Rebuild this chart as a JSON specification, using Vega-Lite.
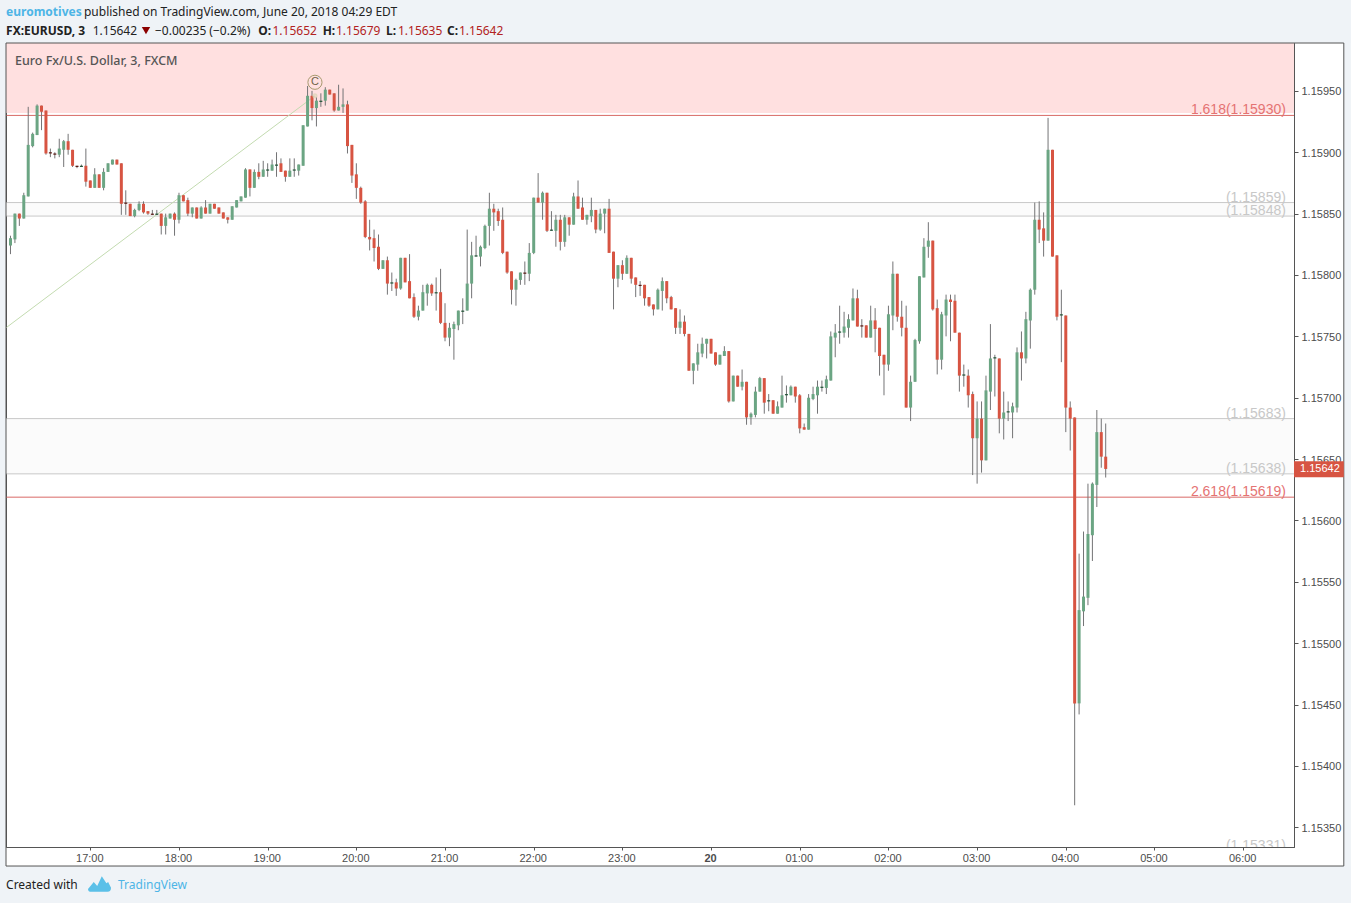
{"$schema":"https://vega.github.io/schema/vega-lite/v6.json","width":1288,"height":804,"autosize":{"type":"none"},"padding":{"left":6,"top":43,"right":57,"bottom":56},"background":"#ffffff","view":{"stroke":"#555555","strokeWidth":1},"config":{"scale":{"continuousPadding":0},"axis":{"labelFont":"Liberation Sans","labelFontSize":11,"labelColor":"#4c4c4c","tickColor":"#555555","domainColor":"#555555","grid":false}},
"datasets":{"candles":[
{"t":"2018-06-19T16:06Z","o":1.15824,"h":1.15832,"l":1.15817,"c":1.1583},
{"t":"2018-06-19T16:09Z","o":1.15829,"h":1.1585,"l":1.15826,"c":1.1585},
{"t":"2018-06-19T16:12Z","o":1.1585,"h":1.1585,"l":1.1584,"c":1.15846},
{"t":"2018-06-19T16:15Z","o":1.15846,"h":1.15867,"l":1.15846,"c":1.15865},
{"t":"2018-06-19T16:18Z","o":1.15864,"h":1.15937,"l":1.15864,"c":1.15906},
{"t":"2018-06-19T16:21Z","o":1.15905,"h":1.15916,"l":1.15904,"c":1.15915},
{"t":"2018-06-19T16:24Z","o":1.15914,"h":1.15939,"l":1.15914,"c":1.15938},
{"t":"2018-06-19T16:27Z","o":1.15938,"h":1.15938,"l":1.15918,"c":1.15933},
{"t":"2018-06-19T16:30Z","o":1.15934,"h":1.15934,"l":1.15898,"c":1.15899},
{"t":"2018-06-19T16:33Z","o":1.159,"h":1.15903,"l":1.15896,"c":1.15899},
{"t":"2018-06-19T16:36Z","o":1.15899,"h":1.159,"l":1.15895,"c":1.15898},
{"t":"2018-06-19T16:39Z","o":1.15898,"h":1.15911,"l":1.15896,"c":1.15903},
{"t":"2018-06-19T16:42Z","o":1.15902,"h":1.1591,"l":1.15888,"c":1.15909},
{"t":"2018-06-19T16:45Z","o":1.15909,"h":1.15915,"l":1.15898,"c":1.15902},
{"t":"2018-06-19T16:48Z","o":1.15902,"h":1.15902,"l":1.15888,"c":1.15889},
{"t":"2018-06-19T16:51Z","o":1.15889,"h":1.15889,"l":1.15887,"c":1.15888},
{"t":"2018-06-19T16:54Z","o":1.15888,"h":1.1589,"l":1.15888,"c":1.15889},
{"t":"2018-06-19T16:57Z","o":1.15889,"h":1.15903,"l":1.15872,"c":1.15876},
{"t":"2018-06-19T17:00Z","o":1.15877,"h":1.15877,"l":1.15871,"c":1.15871},
{"t":"2018-06-19T17:03Z","o":1.15871,"h":1.15887,"l":1.15871,"c":1.15882},
{"t":"2018-06-19T17:06Z","o":1.15882,"h":1.15882,"l":1.15871,"c":1.15871},
{"t":"2018-06-19T17:09Z","o":1.15871,"h":1.15887,"l":1.15869,"c":1.15884},
{"t":"2018-06-19T17:12Z","o":1.15884,"h":1.15891,"l":1.15884,"c":1.15891},
{"t":"2018-06-19T17:15Z","o":1.1589,"h":1.15894,"l":1.1589,"c":1.15894},
{"t":"2018-06-19T17:18Z","o":1.15894,"h":1.15894,"l":1.1589,"c":1.1589},
{"t":"2018-06-19T17:21Z","o":1.15891,"h":1.15891,"l":1.15849,"c":1.15858},
{"t":"2018-06-19T17:24Z","o":1.15859,"h":1.15869,"l":1.15849,"c":1.15858},
{"t":"2018-06-19T17:27Z","o":1.15858,"h":1.15858,"l":1.15848,"c":1.15848},
{"t":"2018-06-19T17:30Z","o":1.15848,"h":1.15854,"l":1.15847,"c":1.15853},
{"t":"2018-06-19T17:33Z","o":1.15853,"h":1.1586,"l":1.15852,"c":1.15858},
{"t":"2018-06-19T17:36Z","o":1.15858,"h":1.1586,"l":1.1585,"c":1.15851},
{"t":"2018-06-19T17:39Z","o":1.15852,"h":1.15852,"l":1.15849,"c":1.1585},
{"t":"2018-06-19T17:42Z","o":1.1585,"h":1.15853,"l":1.15849,"c":1.15849},
{"t":"2018-06-19T17:45Z","o":1.15849,"h":1.15853,"l":1.15849,"c":1.1585},
{"t":"2018-06-19T17:48Z","o":1.1585,"h":1.1585,"l":1.15833,"c":1.1584},
{"t":"2018-06-19T17:51Z","o":1.1584,"h":1.1585,"l":1.15833,"c":1.15847},
{"t":"2018-06-19T17:54Z","o":1.15846,"h":1.1585,"l":1.15846,"c":1.1585},
{"t":"2018-06-19T17:57Z","o":1.1585,"h":1.15851,"l":1.15832,"c":1.15845},
{"t":"2018-06-19T18:00Z","o":1.15845,"h":1.15867,"l":1.15842,"c":1.15865},
{"t":"2018-06-19T18:03Z","o":1.15865,"h":1.15865,"l":1.1586,"c":1.1586},
{"t":"2018-06-19T18:06Z","o":1.15861,"h":1.15863,"l":1.15848,"c":1.1585},
{"t":"2018-06-19T18:09Z","o":1.1585,"h":1.15855,"l":1.15847,"c":1.15855},
{"t":"2018-06-19T18:12Z","o":1.15855,"h":1.15855,"l":1.15846,"c":1.15846},
{"t":"2018-06-19T18:15Z","o":1.15846,"h":1.15856,"l":1.15846,"c":1.15855},
{"t":"2018-06-19T18:18Z","o":1.15855,"h":1.15861,"l":1.1585,"c":1.1585},
{"t":"2018-06-19T18:21Z","o":1.1585,"h":1.15858,"l":1.1585,"c":1.15858},
{"t":"2018-06-19T18:24Z","o":1.15858,"h":1.15858,"l":1.15854,"c":1.15854},
{"t":"2018-06-19T18:27Z","o":1.15855,"h":1.15855,"l":1.1585,"c":1.1585},
{"t":"2018-06-19T18:30Z","o":1.15851,"h":1.15851,"l":1.15846,"c":1.15846},
{"t":"2018-06-19T18:33Z","o":1.15847,"h":1.15847,"l":1.15842,"c":1.15845},
{"t":"2018-06-19T18:36Z","o":1.15845,"h":1.15856,"l":1.15845,"c":1.15856},
{"t":"2018-06-19T18:39Z","o":1.15855,"h":1.15861,"l":1.15855,"c":1.15861},
{"t":"2018-06-19T18:42Z","o":1.1586,"h":1.15864,"l":1.1586,"c":1.15864},
{"t":"2018-06-19T18:45Z","o":1.15863,"h":1.15887,"l":1.15863,"c":1.15886},
{"t":"2018-06-19T18:48Z","o":1.15886,"h":1.15886,"l":1.15864,"c":1.15871},
{"t":"2018-06-19T18:51Z","o":1.15871,"h":1.15886,"l":1.15871,"c":1.15884},
{"t":"2018-06-19T18:54Z","o":1.15884,"h":1.15891,"l":1.15878,"c":1.1588},
{"t":"2018-06-19T18:57Z","o":1.1588,"h":1.15893,"l":1.1588,"c":1.15886},
{"t":"2018-06-19T19:00Z","o":1.15885,"h":1.15891,"l":1.1588,"c":1.15886},
{"t":"2018-06-19T19:03Z","o":1.15885,"h":1.15894,"l":1.15885,"c":1.1589},
{"t":"2018-06-19T19:06Z","o":1.15889,"h":1.159,"l":1.1588,"c":1.1589},
{"t":"2018-06-19T19:09Z","o":1.15891,"h":1.15895,"l":1.15884,"c":1.15884},
{"t":"2018-06-19T19:12Z","o":1.15885,"h":1.15885,"l":1.15876,"c":1.1588},
{"t":"2018-06-19T19:15Z","o":1.1588,"h":1.15895,"l":1.1588,"c":1.15885},
{"t":"2018-06-19T19:18Z","o":1.15885,"h":1.15895,"l":1.1588,"c":1.15886},
{"t":"2018-06-19T19:21Z","o":1.15885,"h":1.1589,"l":1.15881,"c":1.1589},
{"t":"2018-06-19T19:24Z","o":1.15889,"h":1.15922,"l":1.15889,"c":1.15922},
{"t":"2018-06-19T19:27Z","o":1.15921,"h":1.15954,"l":1.15921,"c":1.15946},
{"t":"2018-06-19T19:30Z","o":1.15946,"h":1.1595,"l":1.15926,"c":1.15936},
{"t":"2018-06-19T19:33Z","o":1.15936,"h":1.15945,"l":1.15921,"c":1.15942},
{"t":"2018-06-19T19:36Z","o":1.15941,"h":1.15948,"l":1.15937,"c":1.15942},
{"t":"2018-06-19T19:39Z","o":1.15942,"h":1.15953,"l":1.15938,"c":1.15951},
{"t":"2018-06-19T19:42Z","o":1.15951,"h":1.15951,"l":1.15947,"c":1.15947},
{"t":"2018-06-19T19:45Z","o":1.15948,"h":1.15948,"l":1.15933,"c":1.15934},
{"t":"2018-06-19T19:48Z","o":1.15934,"h":1.15955,"l":1.15934,"c":1.15937},
{"t":"2018-06-19T19:51Z","o":1.15937,"h":1.15952,"l":1.15932,"c":1.15939},
{"t":"2018-06-19T19:54Z","o":1.15939,"h":1.15942,"l":1.15899,"c":1.15905},
{"t":"2018-06-19T19:57Z","o":1.15906,"h":1.15906,"l":1.15875,"c":1.15881},
{"t":"2018-06-19T20:00Z","o":1.15882,"h":1.15891,"l":1.15862,"c":1.15871},
{"t":"2018-06-19T20:03Z","o":1.15871,"h":1.15872,"l":1.15858,"c":1.15859},
{"t":"2018-06-19T20:06Z","o":1.1586,"h":1.15861,"l":1.1583,"c":1.15831},
{"t":"2018-06-19T20:09Z","o":1.15831,"h":1.15845,"l":1.1582,"c":1.15829},
{"t":"2018-06-19T20:12Z","o":1.1583,"h":1.15837,"l":1.15811,"c":1.15822},
{"t":"2018-06-19T20:15Z","o":1.15823,"h":1.15833,"l":1.15804,"c":1.15805},
{"t":"2018-06-19T20:18Z","o":1.15805,"h":1.15812,"l":1.15805,"c":1.15812},
{"t":"2018-06-19T20:21Z","o":1.15812,"h":1.15815,"l":1.15784,"c":1.15793},
{"t":"2018-06-19T20:24Z","o":1.15793,"h":1.15802,"l":1.15787,"c":1.15794},
{"t":"2018-06-19T20:27Z","o":1.15794,"h":1.15797,"l":1.15783,"c":1.15789},
{"t":"2018-06-19T20:30Z","o":1.15789,"h":1.15814,"l":1.15788,"c":1.15814},
{"t":"2018-06-19T20:33Z","o":1.15814,"h":1.15814,"l":1.15794,"c":1.15794},
{"t":"2018-06-19T20:36Z","o":1.15795,"h":1.15817,"l":1.15781,"c":1.15781},
{"t":"2018-06-19T20:39Z","o":1.15782,"h":1.15785,"l":1.15765,"c":1.15766},
{"t":"2018-06-19T20:42Z","o":1.15766,"h":1.15775,"l":1.15763,"c":1.15771},
{"t":"2018-06-19T20:45Z","o":1.15771,"h":1.15792,"l":1.15771,"c":1.15786},
{"t":"2018-06-19T20:48Z","o":1.15785,"h":1.15793,"l":1.15775,"c":1.15792},
{"t":"2018-06-19T20:51Z","o":1.15792,"h":1.15793,"l":1.15783,"c":1.15785},
{"t":"2018-06-19T20:54Z","o":1.15785,"h":1.15798,"l":1.15771,"c":1.15786},
{"t":"2018-06-19T20:57Z","o":1.15786,"h":1.15805,"l":1.1576,"c":1.15761},
{"t":"2018-06-19T21:00Z","o":1.15761,"h":1.15777,"l":1.15746,"c":1.15749},
{"t":"2018-06-19T21:03Z","o":1.15749,"h":1.15761,"l":1.15742,"c":1.15757},
{"t":"2018-06-19T21:06Z","o":1.15756,"h":1.15762,"l":1.15731,"c":1.1576},
{"t":"2018-06-19T21:09Z","o":1.15759,"h":1.15771,"l":1.15755,"c":1.15771},
{"t":"2018-06-19T21:12Z","o":1.1577,"h":1.15781,"l":1.1576,"c":1.15771},
{"t":"2018-06-19T21:15Z","o":1.15771,"h":1.15837,"l":1.15771,"c":1.15793},
{"t":"2018-06-19T21:18Z","o":1.15793,"h":1.15827,"l":1.15781,"c":1.15816},
{"t":"2018-06-19T21:21Z","o":1.15815,"h":1.15832,"l":1.15815,"c":1.15816},
{"t":"2018-06-19T21:24Z","o":1.15815,"h":1.15824,"l":1.15807,"c":1.15823},
{"t":"2018-06-19T21:27Z","o":1.15822,"h":1.15841,"l":1.15821,"c":1.1584},
{"t":"2018-06-19T21:30Z","o":1.1584,"h":1.15867,"l":1.15824,"c":1.15854},
{"t":"2018-06-19T21:33Z","o":1.15854,"h":1.15858,"l":1.15836,"c":1.15851},
{"t":"2018-06-19T21:36Z","o":1.15852,"h":1.15854,"l":1.1584,"c":1.15844},
{"t":"2018-06-19T21:39Z","o":1.15845,"h":1.15855,"l":1.15817,"c":1.15818},
{"t":"2018-06-19T21:42Z","o":1.15819,"h":1.15819,"l":1.15801,"c":1.15802},
{"t":"2018-06-19T21:45Z","o":1.15803,"h":1.15803,"l":1.15776,"c":1.15788},
{"t":"2018-06-19T21:48Z","o":1.15788,"h":1.15797,"l":1.15775,"c":1.15796},
{"t":"2018-06-19T21:51Z","o":1.15796,"h":1.15802,"l":1.15792,"c":1.15802},
{"t":"2018-06-19T21:54Z","o":1.15802,"h":1.15811,"l":1.15792,"c":1.15801},
{"t":"2018-06-19T21:57Z","o":1.15801,"h":1.15826,"l":1.15795,"c":1.15818},
{"t":"2018-06-19T22:00Z","o":1.15818,"h":1.15863,"l":1.15817,"c":1.15863},
{"t":"2018-06-19T22:03Z","o":1.15863,"h":1.15883,"l":1.15859,"c":1.15859},
{"t":"2018-06-19T22:06Z","o":1.15859,"h":1.15868,"l":1.15845,"c":1.15867},
{"t":"2018-06-19T22:09Z","o":1.15867,"h":1.15867,"l":1.15835,"c":1.15836},
{"t":"2018-06-19T22:12Z","o":1.15836,"h":1.15852,"l":1.15836,"c":1.15837},
{"t":"2018-06-19T22:15Z","o":1.15836,"h":1.15849,"l":1.15823,"c":1.15845},
{"t":"2018-06-19T22:18Z","o":1.15845,"h":1.15849,"l":1.1582,"c":1.15827},
{"t":"2018-06-19T22:21Z","o":1.15827,"h":1.15849,"l":1.15823,"c":1.15847},
{"t":"2018-06-19T22:24Z","o":1.15847,"h":1.15847,"l":1.15832,"c":1.15841},
{"t":"2018-06-19T22:27Z","o":1.15841,"h":1.15867,"l":1.15841,"c":1.15864},
{"t":"2018-06-19T22:30Z","o":1.15864,"h":1.15877,"l":1.15854,"c":1.15854},
{"t":"2018-06-19T22:33Z","o":1.15855,"h":1.15863,"l":1.15845,"c":1.15845},
{"t":"2018-06-19T22:36Z","o":1.15845,"h":1.15849,"l":1.15841,"c":1.15849},
{"t":"2018-06-19T22:39Z","o":1.15848,"h":1.15863,"l":1.15843,"c":1.15853},
{"t":"2018-06-19T22:42Z","o":1.15853,"h":1.15853,"l":1.15834,"c":1.15837},
{"t":"2018-06-19T22:45Z","o":1.15837,"h":1.15854,"l":1.15836,"c":1.1585},
{"t":"2018-06-19T22:48Z","o":1.1585,"h":1.15854,"l":1.15834,"c":1.15854},
{"t":"2018-06-19T22:51Z","o":1.15854,"h":1.15862,"l":1.15818,"c":1.15818},
{"t":"2018-06-19T22:54Z","o":1.15819,"h":1.15819,"l":1.15772,"c":1.15797},
{"t":"2018-06-19T22:57Z","o":1.15797,"h":1.15808,"l":1.1579,"c":1.15808},
{"t":"2018-06-19T23:00Z","o":1.15808,"h":1.15812,"l":1.15796,"c":1.15801},
{"t":"2018-06-19T23:03Z","o":1.15801,"h":1.15816,"l":1.15801,"c":1.15814},
{"t":"2018-06-19T23:06Z","o":1.15814,"h":1.15814,"l":1.15793,"c":1.15797},
{"t":"2018-06-19T23:09Z","o":1.15798,"h":1.15798,"l":1.15782,"c":1.15792},
{"t":"2018-06-19T23:12Z","o":1.15792,"h":1.15795,"l":1.15783,"c":1.15791},
{"t":"2018-06-19T23:15Z","o":1.15792,"h":1.15792,"l":1.15775,"c":1.15781},
{"t":"2018-06-19T23:18Z","o":1.15782,"h":1.15782,"l":1.15774,"c":1.15775},
{"t":"2018-06-19T23:21Z","o":1.15776,"h":1.15776,"l":1.15767,"c":1.15772},
{"t":"2018-06-19T23:24Z","o":1.15772,"h":1.15789,"l":1.15772,"c":1.15788},
{"t":"2018-06-19T23:27Z","o":1.15787,"h":1.15798,"l":1.15771,"c":1.15795},
{"t":"2018-06-19T23:30Z","o":1.15795,"h":1.15795,"l":1.15777,"c":1.15781},
{"t":"2018-06-19T23:33Z","o":1.15782,"h":1.15783,"l":1.15772,"c":1.15772},
{"t":"2018-06-19T23:36Z","o":1.15773,"h":1.15773,"l":1.15752,"c":1.15757},
{"t":"2018-06-19T23:39Z","o":1.15757,"h":1.15772,"l":1.15752,"c":1.15762},
{"t":"2018-06-19T23:42Z","o":1.15762,"h":1.15767,"l":1.1575,"c":1.15752},
{"t":"2018-06-19T23:45Z","o":1.15752,"h":1.15752,"l":1.15722,"c":1.15722},
{"t":"2018-06-19T23:48Z","o":1.15722,"h":1.15728,"l":1.15711,"c":1.15728},
{"t":"2018-06-19T23:51Z","o":1.15727,"h":1.15744,"l":1.15722,"c":1.15737},
{"t":"2018-06-19T23:54Z","o":1.15736,"h":1.15749,"l":1.15733,"c":1.15744},
{"t":"2018-06-19T23:57Z","o":1.15744,"h":1.15748,"l":1.15732,"c":1.15748},
{"t":"2018-06-20T00:00Z","o":1.15748,"h":1.15748,"l":1.15736,"c":1.15736},
{"t":"2018-06-20T00:03Z","o":1.15737,"h":1.15737,"l":1.15726,"c":1.15727},
{"t":"2018-06-20T00:06Z","o":1.15727,"h":1.15735,"l":1.15727,"c":1.15735},
{"t":"2018-06-20T00:09Z","o":1.15734,"h":1.15742,"l":1.15734,"c":1.15738},
{"t":"2018-06-20T00:12Z","o":1.15738,"h":1.15738,"l":1.15696,"c":1.15697},
{"t":"2018-06-20T00:15Z","o":1.15697,"h":1.15718,"l":1.15697,"c":1.15718},
{"t":"2018-06-20T00:18Z","o":1.15718,"h":1.15718,"l":1.15709,"c":1.15709},
{"t":"2018-06-20T00:21Z","o":1.15709,"h":1.15723,"l":1.15706,"c":1.15713},
{"t":"2018-06-20T00:24Z","o":1.15713,"h":1.15713,"l":1.15678,"c":1.15684},
{"t":"2018-06-20T00:27Z","o":1.15684,"h":1.15688,"l":1.15678,"c":1.15687},
{"t":"2018-06-20T00:30Z","o":1.15686,"h":1.15709,"l":1.15684,"c":1.15705},
{"t":"2018-06-20T00:33Z","o":1.15705,"h":1.15717,"l":1.15705,"c":1.15716},
{"t":"2018-06-20T00:36Z","o":1.15716,"h":1.15716,"l":1.15687,"c":1.15696},
{"t":"2018-06-20T00:39Z","o":1.15697,"h":1.15703,"l":1.15689,"c":1.15698},
{"t":"2018-06-20T00:42Z","o":1.15698,"h":1.15698,"l":1.15687,"c":1.15687},
{"t":"2018-06-20T00:45Z","o":1.15687,"h":1.15697,"l":1.15687,"c":1.15693},
{"t":"2018-06-20T00:48Z","o":1.15692,"h":1.15718,"l":1.15692,"c":1.15702},
{"t":"2018-06-20T00:51Z","o":1.15702,"h":1.1571,"l":1.15696,"c":1.15703},
{"t":"2018-06-20T00:54Z","o":1.15702,"h":1.1571,"l":1.15702,"c":1.15709},
{"t":"2018-06-20T00:57Z","o":1.15709,"h":1.15709,"l":1.15696,"c":1.15701},
{"t":"2018-06-20T01:00Z","o":1.15702,"h":1.15703,"l":1.15671,"c":1.15675},
{"t":"2018-06-20T01:03Z","o":1.15676,"h":1.15679,"l":1.15674,"c":1.15674},
{"t":"2018-06-20T01:06Z","o":1.15674,"h":1.15703,"l":1.15674,"c":1.157},
{"t":"2018-06-20T01:09Z","o":1.15699,"h":1.15709,"l":1.15698,"c":1.15703},
{"t":"2018-06-20T01:12Z","o":1.15702,"h":1.15714,"l":1.15687,"c":1.15709},
{"t":"2018-06-20T01:15Z","o":1.15708,"h":1.15714,"l":1.15705,"c":1.15709},
{"t":"2018-06-20T01:18Z","o":1.15708,"h":1.15718,"l":1.15703,"c":1.15715},
{"t":"2018-06-20T01:21Z","o":1.15714,"h":1.15754,"l":1.15714,"c":1.1575},
{"t":"2018-06-20T01:24Z","o":1.15749,"h":1.1576,"l":1.15733,"c":1.15753},
{"t":"2018-06-20T01:27Z","o":1.15753,"h":1.15775,"l":1.15744,"c":1.15754},
{"t":"2018-06-20T01:30Z","o":1.15753,"h":1.1577,"l":1.15749,"c":1.15758},
{"t":"2018-06-20T01:33Z","o":1.15757,"h":1.15768,"l":1.15749,"c":1.15764},
{"t":"2018-06-20T01:36Z","o":1.15763,"h":1.15789,"l":1.15763,"c":1.15781},
{"t":"2018-06-20T01:39Z","o":1.15781,"h":1.15788,"l":1.15758,"c":1.15758},
{"t":"2018-06-20T01:42Z","o":1.15759,"h":1.15764,"l":1.15749,"c":1.15758},
{"t":"2018-06-20T01:45Z","o":1.15759,"h":1.15759,"l":1.15749,"c":1.15749},
{"t":"2018-06-20T01:48Z","o":1.15749,"h":1.15775,"l":1.15749,"c":1.15763},
{"t":"2018-06-20T01:51Z","o":1.15763,"h":1.15773,"l":1.15737,"c":1.15756},
{"t":"2018-06-20T01:54Z","o":1.15757,"h":1.15757,"l":1.15718,"c":1.15734},
{"t":"2018-06-20T01:57Z","o":1.15735,"h":1.15735,"l":1.15702,"c":1.15727},
{"t":"2018-06-20T02:00Z","o":1.15727,"h":1.15775,"l":1.15722,"c":1.15768},
{"t":"2018-06-20T02:03Z","o":1.15767,"h":1.15811,"l":1.15755,"c":1.15801},
{"t":"2018-06-20T02:06Z","o":1.15801,"h":1.15801,"l":1.15762,"c":1.15766},
{"t":"2018-06-20T02:09Z","o":1.15766,"h":1.15779,"l":1.1575,"c":1.15757},
{"t":"2018-06-20T02:12Z","o":1.15757,"h":1.15775,"l":1.15692,"c":1.15692},
{"t":"2018-06-20T02:15Z","o":1.15692,"h":1.15718,"l":1.15681,"c":1.15713},
{"t":"2018-06-20T02:18Z","o":1.15713,"h":1.15748,"l":1.15713,"c":1.15747},
{"t":"2018-06-20T02:21Z","o":1.15746,"h":1.15799,"l":1.15744,"c":1.15799},
{"t":"2018-06-20T02:24Z","o":1.15798,"h":1.1583,"l":1.15798,"c":1.15823},
{"t":"2018-06-20T02:27Z","o":1.15823,"h":1.15843,"l":1.15814,"c":1.15828},
{"t":"2018-06-20T02:30Z","o":1.15828,"h":1.15828,"l":1.15771,"c":1.15772},
{"t":"2018-06-20T02:33Z","o":1.15773,"h":1.1578,"l":1.15719,"c":1.15731},
{"t":"2018-06-20T02:36Z","o":1.15731,"h":1.1577,"l":1.15723,"c":1.15768},
{"t":"2018-06-20T02:39Z","o":1.15767,"h":1.15784,"l":1.1575,"c":1.1578},
{"t":"2018-06-20T02:42Z","o":1.1578,"h":1.15784,"l":1.15746,"c":1.15778},
{"t":"2018-06-20T02:45Z","o":1.15779,"h":1.15784,"l":1.15753,"c":1.15753},
{"t":"2018-06-20T02:48Z","o":1.15753,"h":1.15753,"l":1.15705,"c":1.15718},
{"t":"2018-06-20T02:51Z","o":1.15718,"h":1.15727,"l":1.15709,"c":1.15719},
{"t":"2018-06-20T02:54Z","o":1.15718,"h":1.15723,"l":1.15692,"c":1.15702},
{"t":"2018-06-20T02:57Z","o":1.15703,"h":1.15705,"l":1.15637,"c":1.15667},
{"t":"2018-06-20T03:00Z","o":1.15667,"h":1.15697,"l":1.1563,"c":1.15683},
{"t":"2018-06-20T03:03Z","o":1.15683,"h":1.15697,"l":1.15639,"c":1.15649},
{"t":"2018-06-20T03:06Z","o":1.15649,"h":1.15718,"l":1.15649,"c":1.15706},
{"t":"2018-06-20T03:09Z","o":1.15705,"h":1.1576,"l":1.1569,"c":1.15732},
{"t":"2018-06-20T03:12Z","o":1.15732,"h":1.15735,"l":1.15701,"c":1.15733},
{"t":"2018-06-20T03:15Z","o":1.15732,"h":1.15732,"l":1.15671,"c":1.15683},
{"t":"2018-06-20T03:18Z","o":1.15683,"h":1.15705,"l":1.15666,"c":1.15688},
{"t":"2018-06-20T03:21Z","o":1.15688,"h":1.15697,"l":1.15681,"c":1.15689},
{"t":"2018-06-20T03:24Z","o":1.15688,"h":1.15696,"l":1.15667,"c":1.15693},
{"t":"2018-06-20T03:27Z","o":1.15692,"h":1.15741,"l":1.15688,"c":1.15737},
{"t":"2018-06-20T03:30Z","o":1.15737,"h":1.15754,"l":1.15714,"c":1.15732},
{"t":"2018-06-20T03:33Z","o":1.15732,"h":1.1577,"l":1.15728,"c":1.15764},
{"t":"2018-06-20T03:36Z","o":1.15763,"h":1.15789,"l":1.1574,"c":1.15788},
{"t":"2018-06-20T03:39Z","o":1.15788,"h":1.15859,"l":1.15784,"c":1.15845},
{"t":"2018-06-20T03:42Z","o":1.15845,"h":1.1586,"l":1.15826,"c":1.15837},
{"t":"2018-06-20T03:45Z","o":1.15838,"h":1.15851,"l":1.15815,"c":1.15828},
{"t":"2018-06-20T03:48Z","o":1.15828,"h":1.15928,"l":1.15828,"c":1.15902},
{"t":"2018-06-20T03:51Z","o":1.15902,"h":1.15902,"l":1.15815,"c":1.15815},
{"t":"2018-06-20T03:54Z","o":1.15816,"h":1.15816,"l":1.15763,"c":1.15766},
{"t":"2018-06-20T03:57Z","o":1.15767,"h":1.15788,"l":1.15729,"c":1.15768},
{"t":"2018-06-20T04:00Z","o":1.15767,"h":1.15767,"l":1.15672,"c":1.15692},
{"t":"2018-06-20T04:03Z","o":1.15692,"h":1.15697,"l":1.15657,"c":1.15683},
{"t":"2018-06-20T04:06Z","o":1.15684,"h":1.15684,"l":1.15368,"c":1.15451},
{"t":"2018-06-20T04:09Z","o":1.15451,"h":1.15573,"l":1.15442,"c":1.15527},
{"t":"2018-06-20T04:12Z","o":1.15526,"h":1.15591,"l":1.15514,"c":1.15538},
{"t":"2018-06-20T04:15Z","o":1.15537,"h":1.1563,"l":1.15531,"c":1.15589},
{"t":"2018-06-20T04:18Z","o":1.15588,"h":1.15631,"l":1.15567,"c":1.1563},
{"t":"2018-06-20T04:21Z","o":1.15629,"h":1.1569,"l":1.15611,"c":1.15672},
{"t":"2018-06-20T04:24Z","o":1.15672,"h":1.15683,"l":1.15643,"c":1.15652},
{"t":"2018-06-20T04:27Z","o":1.15652,"h":1.15679,"l":1.15635,"c":1.15642}
]},
"layer":[
{"data":{"values":[{"a":1.15989,"b":1.15932}]},"mark":{"type":"rect","fill":"#ffe0e0"},"encoding":{"y":{"field":"a","type":"quantitative","scale":{"domain":[1.15334,1.15989],"nice":false}},"y2":{"field":"b"}}},
{"data":{"values":[{"a":1.15859,"b":1.15848},{"a":1.15683,"b":1.15638}]},"mark":{"type":"rect","fill":"#fbfbfb"},"encoding":{"y":{"field":"a","type":"quantitative","scale":{"domain":[1.15334,1.15989],"nice":false}},"y2":{"field":"b"}}},
{"data":{"values":[{"p":1.15859},{"p":1.15848},{"p":1.15683},{"p":1.15638}]},"mark":{"type":"rule","color":"#c8c8c8","strokeWidth":1},"encoding":{"y":{"field":"p","type":"quantitative","scale":{"domain":[1.15334,1.15989],"nice":false}}}},
{"data":{"values":[{"p":1.1593},{"p":1.15619}]},"mark":{"type":"rule","color":"#d96a66","strokeWidth":1},"encoding":{"y":{"field":"p","type":"quantitative","scale":{"domain":[1.15334,1.15989],"nice":false}}}},
{"data":{"values":[{"t":"2018-06-19T16:03:00Z","p":1.15757},{"t":"2018-06-19T19:32:00Z","p":1.15946}]},"mark":{"type":"line","color":"#c3dbb0","strokeWidth":1},"encoding":{"x":{"field":"t","type":"temporal","scale":{"type":"utc","domain":["2018-06-19T16:02:58Z","2018-06-20T06:34:24Z"],"nice":false}},"y":{"field":"p","type":"quantitative","scale":{"domain":[1.15334,1.15989],"nice":false}}}},
{"data":{"name":"candles"},"mark":{"type":"rule","color":"#737375","strokeWidth":1},"encoding":{"x":{"field":"t","type":"temporal","scale":{"type":"utc","domain":["2018-06-19T16:02:58Z","2018-06-20T06:34:24Z"],"nice":false},"axis":{"title":null,"orient":"bottom","values":["2018-06-19T17:00:00Z","2018-06-19T18:00:00Z","2018-06-19T19:00:00Z","2018-06-19T20:00:00Z","2018-06-19T21:00:00Z","2018-06-19T22:00:00Z","2018-06-19T23:00:00Z","2018-06-20T00:00:00Z","2018-06-20T01:00:00Z","2018-06-20T02:00:00Z","2018-06-20T03:00:00Z","2018-06-20T04:00:00Z","2018-06-20T05:00:00Z","2018-06-20T06:00:00Z"],"labelExpr":"utchours(datum.value)==0 ? '20' : utcFormat(datum.value,'%H:%M')","labelFontWeight":{"condition":{"test":"utchours(datum.value)==0","value":"bold"},"value":"normal"},"tickSize":3,"labelPadding":2,"labelOffset":-1,"labelFlush":false,"labelOverlap":false}},"y":{"field":"l","type":"quantitative","scale":{"domain":[1.15334,1.15989],"nice":false},"axis":{"title":null,"orient":"right","values":[1.1535,1.154,1.1545,1.155,1.1555,1.156,1.1565,1.157,1.1575,1.158,1.1585,1.159,1.1595],"format":".5f","tickSize":4,"labelPadding":3,"labelOffset":1,"labelOverlap":false,"labelFlush":false}},"y2":{"field":"h"}}},
{"data":{"name":"candles"},"mark":{"type":"bar","size":3},"encoding":{"x":{"field":"t","type":"temporal","scale":{"type":"utc","domain":["2018-06-19T16:02:58Z","2018-06-20T06:34:24Z"],"nice":false}},"y":{"field":"o","type":"quantitative","scale":{"domain":[1.15334,1.15989],"nice":false}},"y2":{"field":"c"},"color":{"condition":[{"test":"datum.c-datum.o>=0.000015","value":"#6ba583"},{"test":"datum.o-datum.c>=0.000015","value":"#d75442"},{"test":"datum.c>=datum.o","value":"#225437"}],"value":"#5b1a13"}}},
{"data":{"values":[{"t":"2018-06-19T19:32:00Z","p":1.15946}]},"mark":{"type":"point","filled":false,"stroke":"#dcd3b5","size":10},"encoding":{"x":{"field":"t","type":"temporal","scale":{"type":"utc","domain":["2018-06-19T16:02:58Z","2018-06-20T06:34:24Z"],"nice":false}},"y":{"field":"p","type":"quantitative","scale":{"domain":[1.15334,1.15989],"nice":false}}}},
{"data":{"values":[{"t":"2018-06-19T19:32:00Z","p":1.15957}]},"mark":{"type":"point","filled":false,"stroke":"#a8996f","strokeWidth":1,"size":200,"opacity":1},"encoding":{"x":{"field":"t","type":"temporal","scale":{"type":"utc","domain":["2018-06-19T16:02:58Z","2018-06-20T06:34:24Z"],"nice":false}},"y":{"field":"p","type":"quantitative","scale":{"domain":[1.15334,1.15989],"nice":false}}}},
{"data":{"values":[{"t":"2018-06-19T19:32:00Z","p":1.15957,"s":"C"}]},"mark":{"type":"text","font":"Liberation Sans","fontSize":11,"color":"#6e6248","align":"center","baseline":"middle"},"encoding":{"x":{"field":"t","type":"temporal","scale":{"type":"utc","domain":["2018-06-19T16:02:58Z","2018-06-20T06:34:24Z"],"nice":false}},"y":{"field":"p","type":"quantitative","scale":{"domain":[1.15334,1.15989],"nice":false}},"text":{"field":"s"}}},
{"data":{"values":[{"t":"2018-06-20T06:28:54Z","p":1.15859,"s":"(1.15859)"},{"t":"2018-06-20T06:28:54Z","p":1.15848,"s":"(1.15848)"},{"t":"2018-06-20T06:28:54Z","p":1.15683,"s":"(1.15683)"},{"t":"2018-06-20T06:28:54Z","p":1.15638,"s":"(1.15638)"},{"t":"2018-06-20T06:28:54Z","p":1.15331,"s":"(1.15331)"}]},"mark":{"type":"text","clip":true,"font":"Liberation Sans","fontSize":14,"color":"#c8c8c8","align":"right","baseline":"middle","dy":-5},"encoding":{"x":{"field":"t","type":"temporal","scale":{"type":"utc","domain":["2018-06-19T16:02:58Z","2018-06-20T06:34:24Z"],"nice":false}},"y":{"field":"p","type":"quantitative","scale":{"domain":[1.15334,1.15989],"nice":false}},"text":{"field":"s"}}},
{"data":{"values":[{"t":"2018-06-20T06:28:54Z","p":1.1593,"s":"1.618(1.15930)"},{"t":"2018-06-20T06:28:54Z","p":1.15619,"s":"2.618(1.15619)"}]},"mark":{"type":"text","font":"Liberation Sans","fontSize":14,"color":"#e57373","align":"right","baseline":"middle","dy":-5},"encoding":{"x":{"field":"t","type":"temporal","scale":{"type":"utc","domain":["2018-06-19T16:02:58Z","2018-06-20T06:34:24Z"],"nice":false}},"y":{"field":"p","type":"quantitative","scale":{"domain":[1.15334,1.15989],"nice":false}},"text":{"field":"s"}}},
{"data":{"values":[{"x0":"2018-06-19T15:58:55Z","x1":"2018-06-20T07:12:54Z","y0":1.15989,"y1":1.16024},{"x0":"2018-06-19T15:58:55Z","x1":"2018-06-20T07:12:54Z","y0":1.15288,"y1":1.153185},{"x0":"2018-06-19T15:58:55Z","x1":"2018-06-19T16:02:58Z","y0":1.15288,"y1":1.16024},{"x0":"2018-06-20T07:08:06Z","x1":"2018-06-20T07:12:54Z","y0":1.15288,"y1":1.16024}]},"mark":{"type":"rect","fill":"#eff3f7"},"encoding":{"x":{"field":"x0","type":"temporal","scale":{"type":"utc","domain":["2018-06-19T16:02:58Z","2018-06-20T06:34:24Z"],"nice":false}},"x2":{"field":"x1"},"y":{"field":"y0","type":"quantitative","scale":{"domain":[1.15334,1.15989],"nice":false}},"y2":{"field":"y1"}}},
{"data":{"values":[{"x0":"2018-06-19T16:02:58Z","x1":"2018-06-20T07:08:06Z","y0":1.153185,"y1":1.15989}]},"mark":{"type":"rect","fillOpacity":0,"stroke":"#555555","strokeWidth":1},"encoding":{"x":{"field":"x0","type":"temporal","scale":{"type":"utc","domain":["2018-06-19T16:02:58Z","2018-06-20T06:34:24Z"],"nice":false}},"x2":{"field":"x1"},"y":{"field":"y0","type":"quantitative","scale":{"domain":[1.15334,1.15989],"nice":false}},"y2":{"field":"y1"}}},
{"data":{"values":[{"x0":"2018-06-20T06:34:24Z","x1":"2018-06-20T07:08:06Z","y0":1.156353,"y1":1.156483}]},"mark":{"type":"rect","fill":"#d75442"},"encoding":{"x":{"field":"x0","type":"temporal","scale":{"type":"utc","domain":["2018-06-19T16:02:58Z","2018-06-20T06:34:24Z"],"nice":false}},"x2":{"field":"x1"},"y":{"field":"y0","type":"quantitative","scale":{"domain":[1.15334,1.15989],"nice":false}},"y2":{"field":"y1"}}},
{"data":{"values":[{"at":"2018-06-20T06:38:30Z","p":1.15642,"s":"1.15642"}]},"mark":{"type":"text","font":"Liberation Sans","fontSize":11,"color":"#ffffff","align":"left","baseline":"middle"},"encoding":{"x":{"field":"at","type":"temporal","scale":{"type":"utc","domain":["2018-06-19T16:02:58Z","2018-06-20T06:34:24Z"],"nice":false}},"y":{"field":"p","type":"quantitative","scale":{"domain":[1.15334,1.15989],"nice":false}},"text":{"field":"s"}}},
{"data":{"values":[{"at":"2018-06-19T16:09:00Z","p":1.15974,"s":"Euro Fx/U.S. Dollar, 3, FXCM"}]},"mark":{"type":"text","font":"Noto Sans","fontSize":12.5,"fontWeight":500,"color":"#555555","align":"left","baseline":"middle"},"encoding":{"x":{"field":"at","type":"temporal","scale":{"type":"utc","domain":["2018-06-19T16:02:58Z","2018-06-20T06:34:24Z"],"nice":false}},"y":{"field":"p","type":"quantitative","scale":{"domain":[1.15334,1.15989],"nice":false}},"text":{"field":"s"}}},
{"data":{"values":[{"at":"2018-06-19T16:55:44Z","p":1.16014,"s":"published on TradingView.com, June 20, 2018 04:29 EDT"},{"at":"2018-06-19T17:01:37Z","p":1.15999,"s":"1.15642"},{"at":"2018-06-19T17:43:46Z","p":1.15999,"s":"−0.00235 (−0.2%)"},{"at":"2018-06-19T16:03:00Z","p":1.15303,"s":"Created with"}]},"mark":{"type":"text","font":"Noto Sans","fontSize":12,"color":"#222222","align":"left","baseline":"middle"},"encoding":{"x":{"field":"at","type":"temporal","scale":{"type":"utc","domain":["2018-06-19T16:02:58Z","2018-06-20T06:34:24Z"],"nice":false}},"y":{"field":"p","type":"quantitative","scale":{"domain":[1.15334,1.15989],"nice":false}},"text":{"field":"s"}}},
{"data":{"values":[{"at":"2018-06-19T16:03:00Z","p":1.15999,"s":"FX:EURUSD, 3"},{"at":"2018-06-19T18:53:39Z","p":1.15999,"s":"O:"},{"at":"2018-06-19T19:37:13Z","p":1.15999,"s":"H:"},{"at":"2018-06-19T20:20:02Z","p":1.15999,"s":"L:"},{"at":"2018-06-19T21:01:18Z","p":1.15999,"s":"C:"}]},"mark":{"type":"text","font":"Noto Sans","fontSize":12,"fontWeight":"bold","color":"#222222","align":"left","baseline":"middle"},"encoding":{"x":{"field":"at","type":"temporal","scale":{"type":"utc","domain":["2018-06-19T16:02:58Z","2018-06-20T06:34:24Z"],"nice":false}},"y":{"field":"p","type":"quantitative","scale":{"domain":[1.15334,1.15989],"nice":false}},"text":{"field":"s"}}},
{"data":{"values":[{"at":"2018-06-19T19:03:16Z","p":1.15999,"s":"1.15652"},{"at":"2018-06-19T19:46:13Z","p":1.15999,"s":"1.15679"},{"at":"2018-06-19T20:28:09Z","p":1.15999,"s":"1.15635"},{"at":"2018-06-19T21:09:25Z","p":1.15999,"s":"1.15642"}]},"mark":{"type":"text","font":"Noto Sans","fontSize":12,"color":"#b22222","align":"left","baseline":"middle"},"encoding":{"x":{"field":"at","type":"temporal","scale":{"type":"utc","domain":["2018-06-19T16:02:58Z","2018-06-20T06:34:24Z"],"nice":false}},"y":{"field":"p","type":"quantitative","scale":{"domain":[1.15334,1.15989],"nice":false}},"text":{"field":"s"}}},
{"data":{"values":[{"at":"2018-06-19T16:03:00Z","p":1.16014,"s":"euromotives"}]},"mark":{"type":"text","font":"Noto Sans","fontSize":12,"fontWeight":"bold","color":"#4db5e6","align":"left","baseline":"middle"},"encoding":{"x":{"field":"at","type":"temporal","scale":{"type":"utc","domain":["2018-06-19T16:02:58Z","2018-06-20T06:34:24Z"],"nice":false}},"y":{"field":"p","type":"quantitative","scale":{"domain":[1.15334,1.15989],"nice":false}},"text":{"field":"s"}}},
{"data":{"values":[{"at":"2018-06-19T17:18:44Z","p":1.15303,"s":"TradingView"}]},"mark":{"type":"text","font":"Noto Sans","fontSize":12,"color":"#4db5e6","align":"left","baseline":"middle"},"encoding":{"x":{"field":"at","type":"temporal","scale":{"type":"utc","domain":["2018-06-19T16:02:58Z","2018-06-20T06:34:24Z"],"nice":false}},"y":{"field":"p","type":"quantitative","scale":{"domain":[1.15334,1.15989],"nice":false}},"text":{"field":"s"}}},
{"data":{"values":[{"at":"2018-06-19T17:37:41Z","p":1.15999}]},"mark":{"type":"point","shape":"triangle-down","filled":true,"color":"#8b0000","size":70,"opacity":1},"encoding":{"x":{"field":"at","type":"temporal","scale":{"type":"utc","domain":["2018-06-19T16:02:58Z","2018-06-20T06:34:24Z"],"nice":false}},"y":{"field":"p","type":"quantitative","scale":{"domain":[1.15334,1.15989],"nice":false}}}},
{"data":{"values":[{"at":"2018-06-19T17:06:14Z","p":1.15304}]},"mark":{"type":"point","shape":"M-1,0.45 L-0.5,-0.15 L-0.2,0.2 L0.2,-0.65 L0.6,-0.05 L0.75,-0.15 L1,0.35 Q1,0.7 0.7,0.7 L-0.7,0.7 Q-1,0.7 -1,0.45 Z","filled":true,"color":"#5bc0e8","size":529,"opacity":1},"encoding":{"x":{"field":"at","type":"temporal","scale":{"type":"utc","domain":["2018-06-19T16:02:58Z","2018-06-20T06:34:24Z"],"nice":false}},"y":{"field":"p","type":"quantitative","scale":{"domain":[1.15334,1.15989],"nice":false}}}}
]}
